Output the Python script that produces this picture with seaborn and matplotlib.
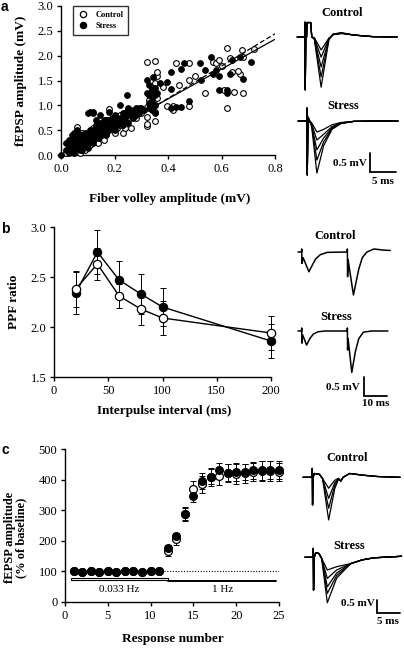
import numpy as np
import pandas as pd
import matplotlib
matplotlib.use("Agg")
import matplotlib.pyplot as plt
import seaborn as sns
from matplotlib.patches import Rectangle
from matplotlib.lines import Line2D

# ---------------- data ----------------
# panel a : fEPSP vs fiber volley
ctrl_fv = [0.02, 0.03, 0.03, 0.04, 0.04, 0.05, 0.05, 0.05, 0.06, 0.06, 0.06, 0.07, 0.07, 0.08, 0.08,
           0.09, 0.09, 0.10, 0.10, 0.11, 0.11, 0.12, 0.12, 0.13, 0.13, 0.14, 0.14, 0.15, 0.15, 0.16,
           0.16, 0.17, 0.17, 0.18, 0.18, 0.19, 0.20, 0.20, 0.21, 0.22, 0.22, 0.23, 0.24, 0.25, 0.25,
           0.26, 0.27, 0.28, 0.30, 0.32, 0.32, 0.32, 0.32, 0.32, 0.33, 0.34, 0.34, 0.35, 0.35, 0.35,
           0.35, 0.35, 0.36, 0.36, 0.36, 0.38, 0.395, 0.42, 0.42, 0.43, 0.44, 0.48, 0.48, 0.48, 0.50,
           0.54, 0.57, 0.58, 0.59, 0.60, 0.61, 0.62, 0.62, 0.63, 0.64, 0.645, 0.67, 0.675, 0.68, 0.68,
           0.66, 0.72]
ctrl_fepsp = [0.05, 0.10, 0.20, 0.15, 0.30, 0.10, 0.25, 0.40, 0.57, 0.20, 0.35, 0.05, 0.30, 0.15, 0.45,
              0.25, 0.10, 0.30, 0.45, 0.20, 0.40, 0.35, 0.55, 0.30, 0.50, 0.45, 0.25, 0.60, 0.40, 0.50,
              0.30, 0.70, 0.45, 0.92, 0.55, 0.60, 0.45, 0.70, 0.55, 0.60, 0.80, 0.45, 0.55, 0.70, 0.90,
              0.55, 0.80, 0.75, 0.85, 0.58, 0.62, 0.77, 0.97, 1.87, 1.10, 1.20, 1.30, 0.69, 0.87, 1.00,
              1.89, 1.45, 1.59, 1.68, 1.15, 1.36, 0.99, 0.91, 0.99, 1.86, 1.40, 0.99, 1.51, 1.86, 1.60,
              1.25, 1.88, 1.85, 1.91, 1.80, 1.31, 0.94, 2.15, 1.95, 1.68, 1.26, 1.64, 2.11, 1.98, 1.25,
              1.70, 2.13]
stress_fv = [0.0, 0.02, 0.02, 0.03, 0.03, 0.04, 0.04, 0.05, 0.05, 0.05, 0.06, 0.06, 0.06, 0.07, 0.07,
             0.08, 0.08, 0.09, 0.09, 0.10, 0.10, 0.11, 0.11, 0.12, 0.12, 0.12, 0.13, 0.13, 0.14, 0.14,
             0.14, 0.15, 0.15, 0.146, 0.16, 0.16, 0.17, 0.17, 0.18, 0.18, 0.19, 0.19, 0.20, 0.20, 0.21,
             0.22, 0.22, 0.23, 0.23, 0.24, 0.245, 0.25, 0.25, 0.26, 0.27, 0.28, 0.29, 0.30, 0.31, 0.32,
             0.32, 0.33, 0.33, 0.34, 0.34, 0.345, 0.35, 0.35, 0.36, 0.37, 0.395, 0.41, 0.41, 0.41, 0.43,
             0.45, 0.45, 0.46, 0.48, 0.52, 0.525, 0.54, 0.56, 0.57, 0.58, 0.59, 0.59, 0.62, 0.62, 0.63,
             0.64, 0.67, 0.68, 0.71,
             0.03, 0.04, 0.05, 0.06, 0.07, 0.07, 0.08, 0.08, 0.09, 0.10, 0.10, 0.11, 0.11, 0.12, 0.12,
             0.13, 0.13, 0.14, 0.14, 0.15, 0.15, 0.16, 0.16, 0.17, 0.17, 0.18, 0.18, 0.19, 0.20, 0.20,
             0.21, 0.22, 0.23, 0.24, 0.25, 0.26, 0.27, 0.28, 0.29, 0.30, 0.33, 0.34, 0.35, 0.33, 0.35,
             0.11, 0.12, 0.13]
stress_fepsp = [0.0, 0.25, 0.10, 0.05, 0.30, 0.20, 0.40, 0.05, 0.30, 0.45, 0.15, 0.35, 0.50, 0.20, 0.40,
                0.10, 0.30, 0.35, 0.20, 0.25, 0.84, 0.35, 0.50, 0.87, 0.40, 0.25, 0.45, 0.60, 0.35, 0.50,
                0.65, 0.40, 0.55, 0.81, 0.60, 0.45, 0.50, 0.70, 0.60, 0.87, 0.55, 0.75, 0.65, 0.50, 0.70,
                1.01, 0.75, 0.85, 0.60, 0.70, 1.21, 0.80, 0.95, 0.85, 0.75, 0.95, 0.85, 0.95, 0.91, 1.24,
                1.52, 1.05, 1.40, 1.11, 1.30, 1.58, 1.20, 1.00, 1.24, 1.44, 1.46, 0.94, 1.32, 1.68, 0.97,
                0.97, 1.74, 1.86, 1.09, 1.86, 1.51, 1.71, 1.98, 1.64, 1.71, 1.59, 1.30, 1.31, 1.24, 1.64,
                1.91, 1.98, 1.54, 1.88,
                0.15, 0.10, 0.20, 0.25, 0.30, 0.10, 0.20, 0.40, 0.45, 0.35, 0.15, 0.30, 0.45, 0.50, 0.30,
                0.35, 0.55, 0.40, 0.55, 0.45, 0.65, 0.55, 0.70, 0.55, 0.40, 0.50, 0.70, 0.65, 0.60, 0.80,
                0.60, 0.65, 0.75, 0.85, 0.65, 0.90, 0.85, 0.80, 0.95, 0.90, 0.95, 0.90, 0.85, 1.20, 1.35,
                0.87, 0.84, 0.70]
fit_ctrl = [3.25, -0.16]     # slope, intercept (dashed)
fit_stress = [3.00, -0.07]   # slope, intercept (solid)
fit_range = [0.0, 0.8]

# panel b : paired-pulse facilitation
ipi = [20, 40, 60, 80, 100, 200]
ppf_ctrl = [2.38, 2.63, 2.31, 2.18, 2.09, 1.94]
ppf_ctrl_err = [0.18, 0.16, 0.12, 0.16, 0.17, 0.17]
ppf_stress = [2.34, 2.75, 2.47, 2.33, 2.20, 1.86]
ppf_stress_err = [0.21, 0.22, 0.19, 0.20, 0.19, 0.17]

# panel c : frequency facilitation
resp = list(range(1, 26))
ff_ctrl = [100, 99, 101, 98, 100, 99, 100, 101, 98, 100, 101,
           168, 205, 287, 368, 385, 408, 412, 422, 418, 420, 425, 428, 428, 425]
ff_ctrl_err = [3, 3, 3, 3, 3, 3, 3, 3, 3, 3, 3,
               18, 20, 20, 28, 28, 30, 30, 30, 32, 30, 30, 32, 32, 30]
ff_stress = [101, 99, 101, 98, 101, 99, 100, 101, 98, 101, 101,
             175, 215, 287, 348, 395, 410, 432, 422, 425, 425, 430, 430, 432, 432]
ff_stress_err = [3, 3, 3, 3, 3, 3, 3, 3, 3, 3, 3,
                 12, 12, 22, 20, 25, 25, 22, 28, 28, 25, 28, 30, 30, 30]

# example traces (time in ms from stimulus, voltage in mV from baseline)
ta_ctrl_t = [-1.5, -0.05, 0.0, 0.05, 0.15, 0.3, 0.4, 1.1, 1.3, 1.8, 3.1, 4.6, 5.4, 7.0, 9.5, 13.0, 17.7]
ta_ctrl_v = [
    [0, 0, 0.39, -1.39, 0, 0, 0.38, 0.38, 0, -0.02, -0.34, -0.03, 0.06, 0.09, 0.05, 0.01, 0],
    [0, 0, 0.39, -1.39, 0, 0, 0.38, 0.38, 0, -0.03, -0.53, -0.04, 0.06, 0.10, 0.05, 0.01, 0],
    [0, 0, 0.39, -1.39, 0, 0, 0.38, 0.38, 0, -0.04, -0.79, -0.05, 0.07, 0.10, 0.05, 0.01, 0],
    [0, 0, 0.39, -1.39, 0, 0, 0.38, 0.38, 0, -0.05, -1.05, -0.06, 0.07, 0.11, 0.05, 0.01, 0],
    [0, 0, 0.39, -1.39, 0, 0, 0.38, 0.38, 0, -0.06, -1.32, -0.07, 0.08, 0.11, 0.05, 0.01, 0],
]
ta_stress_t = [-1.7, -0.05, 0.0, 0.05, 0.2, 0.5, 0.9, 1.9, 3.2, 4.8, 6.5, 9.0, 13.0, 17.5]
ta_stress_v = [
    [0, 0, 0.34, -1.42, 0.10, 0, -0.05, -0.29, -0.22, -0.10, -0.04, -0.01, 0, 0],
    [0, 0, 0.34, -1.42, 0.10, 0, -0.08, -0.50, -0.35, -0.15, -0.05, -0.01, 0, 0],
    [0, 0, 0.34, -1.42, 0.10, 0, -0.10, -0.76, -0.45, -0.18, -0.06, -0.01, 0, 0],
    [0, 0, 0.34, -1.42, 0.10, 0, -0.12, -1.03, -0.55, -0.20, -0.06, -0.01, 0, 0],
    [0, 0, 0.34, -1.42, 0.10, 0, -0.15, -1.37, -0.65, -0.22, -0.07, -0.01, 0, 0],
]
tb_ctrl_t = [-1.6, -0.05, 0.0, 0.1, 0.6, 3.1, 4.5, 6.0, 8.0, 11.0, 19.5, 19.6, 19.7, 19.9,
             22.2, 24.5, 26.0, 28.0, 31.0, 35.0, 38.0]
tb_ctrl_v = [0, 0, 0.08, -0.30, -0.15, -0.52, -0.35, -0.18, -0.07, -0.01, 0, 0.08, -0.65, -0.20,
             -1.13, -0.45, -0.15, 0.0, 0.08, 0.05, 0.04]
tb_stress_t = [-1.6, -0.05, 0.0, 0.1, 0.4, 2.1, 3.5, 5.0, 7.0, 10.0, 19.5, 19.6, 19.7, 19.9,
               21.5, 23.0, 24.5, 26.5, 30.0, 37.0]
tb_stress_v = [0, 0, 0.08, -0.32, -0.10, -0.37, -0.20, -0.08, -0.02, 0, 0, 0.08, -0.50, -0.20,
               -1.09, -0.55, -0.20, -0.03, 0.0, 0.0]
tc_ctrl_t = [-2.0, -0.05, 0.0, 0.05, 0.2, 0.4, 1.5, 2.2, 3.5, 4.8, 5.6, 6.1, 6.6, 8.0, 11.0, 14.0, 18.8]
tc_ctrl_v = [
    [0, 0, 0.35, -1.09, 0, 0.15, 0.12, -0.05, -0.43, -0.12, -0.04, -0.15, 0, 0.15, 0.08, 0.03, 0],
    [0, 0, 0.35, -1.09, 0, 0.15, 0.12, -0.05, -0.83, -0.22, -0.05, -0.15, 0, 0.15, 0.08, 0.03, 0],
    [0, 0, 0.35, -1.09, 0, 0.15, 0.12, -0.05, -1.22, -0.32, -0.06, -0.15, 0, 0.15, 0.08, 0.03, 0],
    [0, 0, 0.35, -1.09, 0, 0.15, 0.12, -0.05, -1.68, -0.45, -0.08, -0.15, 0, 0.15, 0.08, 0.03, 0],
]
tc_stress_t = [-1.8, -0.05, 0.0, 0.05, 0.2, 0.5, 1.2, 1.8, 3.0, 5.0, 8.0, 10.5, 13.0, 18.9]
tc_stress_v = [
    [0, 0, 0.35, -1.29, 0, 0.18, 0.15, -0.05, -0.50, -0.37, -0.25, -0.10, -0.02, 0.04],
    [0, 0, 0.35, -1.29, 0, 0.18, 0.15, -0.05, -0.83, -0.50, -0.25, -0.10, -0.02, 0.04],
    [0, 0, 0.35, -1.29, 0, 0.18, 0.15, -0.05, -1.16, -0.62, -0.25, -0.10, -0.02, 0.04],
    [0, 0, 0.35, -1.29, 0, 0.18, 0.15, -0.05, -1.42, -0.72, -0.25, -0.10, -0.02, 0.04],
    [0, 0, 0.35, -1.29, 0, 0.18, 0.15, -0.05, -1.79, -0.82, -0.25, -0.10, -0.02, 0.04],
]

# ---------------- style ----------------
sns.set_theme(style="ticks")
plt.rcParams['font.family'] = ['Liberation Serif', 'DejaVu Serif']
plt.rcParams.update({
    'axes.linewidth': 1.0, 'xtick.major.width': 1.0, 'ytick.major.width': 1.0,
    'xtick.major.size': 3, 'ytick.major.size': 3,
    'xtick.direction': 'out', 'ytick.direction': 'out',
    'xtick.labelsize': 9, 'ytick.labelsize': 9,
    'xtick.color': 'black', 'ytick.color': 'black',
    'axes.edgecolor': 'black', 'text.color': 'black', 'axes.labelcolor': 'black',
    'xtick.major.pad': 2.5, 'ytick.major.pad': 2.5,
})

W, H = 404, 648
fig = plt.figure(figsize=(W / 100, H / 100), dpi=100)


def rect(l, t, r, b):
    return [l / W, 1 - b / H, (r - l) / W, (b - t) / H]


def ftext(x, y, s, **kw):
    fig.text(x / W, 1 - y / H, s, **kw)


LBL = dict(fontsize=9.5, fontweight='bold')

# ---------------- panel a ----------------
axa = fig.add_axes(rect(61, 6, 275, 155))
dfa_c = pd.DataFrame({'fv': ctrl_fv, 'ep': ctrl_fepsp})
dfa_s = pd.DataFrame({'fv': stress_fv, 'ep': stress_fepsp})
sns.scatterplot(data=dfa_c, x='fv', y='ep', ax=axa, s=17, facecolor='white', edgecolor='black',
                linewidth=0.8, clip_on=False, zorder=3)
sns.scatterplot(data=dfa_s, x='fv', y='ep', ax=axa, s=17, color='black', edgecolor='black',
                linewidth=0.7, clip_on=False, zorder=4)
fx = np.array(fit_range)
sns.lineplot(x=fx, y=fit_ctrl[0] * fx + fit_ctrl[1], ax=axa, color='black', lw=0.9,
             linestyle=(0, (4, 2)), zorder=5)
sns.lineplot(x=fx, y=fit_stress[0] * fx + fit_stress[1], ax=axa, color='black', lw=0.9, zorder=5)
axa.set_xlim(0, 0.8)
axa.set_ylim(0, 3.0)
axa.set_xticks([0.0, 0.2, 0.4, 0.6, 0.8])
axa.set_xticklabels(['0.0', '0.2', '0.4', '0.6', '0.8'])
axa.set_yticks([0.0, 0.5, 1.0, 1.5, 2.0, 2.5, 3.0])
axa.set_yticklabels(['0.0', '0.5', '1.0', '1.5', '2.0', '2.5', '3.0'])
sns.despine(ax=axa)
axa.set_xlabel('Fiber volley amplitude (mV)', **LBL)
axa.set_ylabel('fEPSP amplitude (mV)', **LBL)
axa.xaxis.set_label_coords(0.51, -0.255)
axa.yaxis.set_label_coords(-0.16, 0.5)
handles = [Line2D([], [], marker='o', ls='none', mfc='white', mec='black', ms=4.5, mew=0.9),
           Line2D([], [], marker='o', ls='none', mfc='black', mec='black', ms=4.5, mew=0.9)]
leg = axa.legend(handles, ['Control', 'Stress'], loc='upper left', bbox_to_anchor=(0.056, 1.0),
                 borderaxespad=0, frameon=True, fancybox=False, prop={'size': 6, 'weight': 'bold'},
                 handletextpad=0.9, borderpad=0.6, labelspacing=0.35, handlelength=1.2)
leg.get_frame().set_edgecolor('black')
leg.get_frame().set_linewidth(1.0)
leg.set_zorder(10)

# ---------------- panel b ----------------
axb = fig.add_axes(rect(54, 227, 271, 377))
for yv, ye in ((ppf_stress, ppf_stress_err), (ppf_ctrl, ppf_ctrl_err)):
    eb = axb.errorbar(ipi, yv, yerr=ye, fmt='none', ecolor='black', elinewidth=0.7,
                      capsize=2.2, capthick=0.7, zorder=2)
    for art in eb.lines[1] + eb.lines[2]:
        art.set_clip_on(False)
sns.lineplot(x=ipi, y=ppf_stress, ax=axb, color='black', lw=1.0, marker='o', markersize=6,
             markerfacecolor='black', markeredgecolor='black', markeredgewidth=0.8, zorder=3)
sns.lineplot(x=ipi, y=ppf_ctrl, ax=axb, color='black', lw=1.0, marker='o', markersize=6,
             markerfacecolor='white', markeredgecolor='black', markeredgewidth=0.9, zorder=4)
for ln in axb.lines:
    ln.set_clip_on(False)
axb.set_xlim(0, 200)
axb.set_ylim(1.5, 3.0)
axb.set_xticks([0, 50, 100, 150, 200])
axb.set_yticks([1.5, 2.0, 2.5, 3.0])
axb.set_yticklabels(['1.5', '2.0', '2.5', '3.0'])
sns.despine(ax=axb)
axb.set_xlabel('Interpulse interval (ms)', **LBL)
axb.set_ylabel('PPF ratio', **LBL)
axb.xaxis.set_label_coords(0.51, -0.187)
axb.yaxis.set_label_coords(-0.157, 0.5)

# ---------------- panel c ----------------
axc = fig.add_axes(rect(65, 449, 279, 602))
for yv, ye in ((ff_ctrl, ff_ctrl_err), (ff_stress, ff_stress_err)):
    eb = axc.errorbar(resp, yv, yerr=ye, fmt='none', ecolor='black', elinewidth=0.7,
                      capsize=2.0, capthick=0.7, zorder=2)
    for art in eb.lines[1] + eb.lines[2]:
        art.set_clip_on(False)
sns.scatterplot(x=resp, y=ff_ctrl, ax=axc, s=32, facecolor='white', edgecolor='black',
                linewidth=0.9, zorder=3, clip_on=False)
sns.scatterplot(x=resp, y=ff_stress, ax=axc, s=32, color='black', edgecolor='black',
                linewidth=0.8, zorder=4, clip_on=False)
axc.plot([11.6, 25.0], [100, 100], color='black', lw=0.8, linestyle=(0, (1, 1.5)), zorder=1)
axc.add_patch(Rectangle((0.65, 71), 11.35, 8, facecolor='white', edgecolor='black', lw=0.8, zorder=2))
axc.plot([12.0, 24.6], [67, 67], color='black', lw=1.4, zorder=2)
axc.text(6.3, 40, '0.033 Hz', ha='center', va='center', fontsize=8)
axc.text(18.4, 40, '1 Hz', ha='center', va='center', fontsize=8)
axc.set_xlim(0, 25)
axc.set_ylim(0, 500)
axc.set_xticks([0, 5, 10, 15, 20, 25])
axc.set_yticks([0, 100, 200, 300, 400, 500])
sns.despine(ax=axc)
axc.set_xlabel('Response number', **LBL)
axc.set_ylabel('fEPSP amplitude\n(% of baseline)', linespacing=0.95, fontsize=9, fontweight='bold')
axc.xaxis.set_label_coords(0.505, -0.203)
axc.yaxis.set_label_coords(-0.175, 0.42)

# ---------------- traces ----------------
def trace_ax(t, b, sx, sy, px_ms, px_mv, l=285, r=404):
    ax = fig.add_axes(rect(l, t, r, b))
    ax.set_xlim((l - sx) / px_ms, (r - sx) / px_ms)
    ax.set_ylim(-(b - sy) / px_mv, (sy - t) / px_mv)
    ax.axis('off')
    return ax


def draw(ax, tt, vv, lw=1.0):
    sns.lineplot(x=tt, y=vv, ax=ax, color='black', lw=lw, sort=False, estimator=None)
    for ln in ax.lines:
        ln.set_clip_on(False)


def scalebar(ax, t0, v0, dt, dv):
    ax.plot([t0, t0, t0 + dt], [v0 + dv, v0, v0], color='black', lw=1.3,
            solid_joinstyle='miter', clip_on=False)


TL = dict(fontsize=9, fontweight='bold', ha='center', va='center')
SL = dict(fontsize=8, fontweight='bold', va='center')

# a
ax1 = trace_ax(0, 100, 305, 37, 5.2, 38)
for v in ta_ctrl_v:
    draw(ax1, ta_ctrl_t, v, lw=0.9)
ax2 = trace_ax(95, 195, 307, 121, 5.2, 38)
for v in ta_stress_v:
    draw(ax2, ta_stress_t, v, lw=0.9)
scalebar(ax2, 12.1, -1.34, 5, 0.5)
ftext(342, 13, 'Control', **TL)
ftext(343, 106, 'Stress', **TL)
ftext(367, 163, '0.5 mV', ha='right', **SL)
ftext(383, 182, '5 ms', ha='center', **SL)

# b
ax3 = trace_ax(228, 310, 301.7, 252, 2.33, 38)
draw(ax3, tb_ctrl_t, tb_ctrl_v, lw=1.1)
ax4 = trace_ax(305, 410, 301.7, 331, 2.33, 38)
draw(ax4, tb_stress_t, tb_stress_v, lw=1.1)
scalebar(ax4, 26.7, -1.71, 10, 0.5)
ftext(335, 236, 'Control', **TL)
ftext(336, 317, 'Stress', **TL)
ftext(360, 388, '0.5 mV', ha='right', **SL)
ftext(376, 403, '10 ms', ha='center', **SL)

# c
ax5 = trace_ax(445, 530, 312.3, 477.3, 4.67, 25.4)
for v in tc_ctrl_v:
    draw(ax5, tc_ctrl_t, v, lw=0.9)
ax6 = trace_ax(535, 630, 313.3, 557.3, 4.67, 25.4)
for v in tc_stress_v:
    draw(ax6, tc_stress_t, v, lw=0.9)
scalebar(ax6, 13.6, -2.18, 5, 0.5)
ftext(347, 458, 'Control', **TL)
ftext(349, 546, 'Stress', **TL)
ftext(375, 604, '0.5 mV', ha='right', **SL)
ftext(388, 621, '5 ms', ha='center', **SL)

# panel letters
PL = dict(fontsize=10, fontweight='bold', family=['Liberation Sans', 'DejaVu Sans'], va='center', ha='left')
ftext(1, 7, 'a', **PL)
ftext(1, 229, 'b', **PL)
ftext(1, 450, 'c', **PL)

fig.savefig('out.png', dpi=100)
